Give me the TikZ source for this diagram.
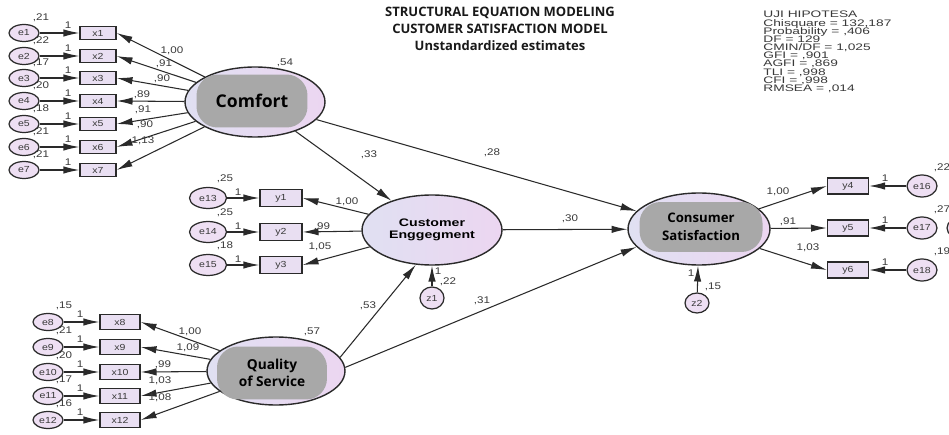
\documentclass[tikz,border=0pt]{standalone}
\usepackage{fontspec}
\setmainfont{Liberation Sans}
\newfontfamily\osans{Open Sans}
\newfontfamily\amos[FakeStretch=1.2]{Liberation Sans}
\newfontfamily\amosw[FakeStretch=1.3]{Liberation Sans}
\newfontfamily\amosx[FakeStretch=1.45]{Liberation Sans}
\newcommand\tightls{\lineskiplimit=-20pt\relax\lineskip=0pt\relax}
\usetikzlibrary{shapes.geometric,arrows.meta}
\definecolor{linec}{HTML}{2A2A2A}
\definecolor{labc}{HTML}{3A3A3A}
\definecolor{latL}{HTML}{E0E0F2}
\definecolor{latR}{HTML}{ECD6F1}
\definecolor{innerg}{HTML}{A8A8A8}
\definecolor{boxf}{HTML}{E9DFF2}
\definecolor{errf}{HTML}{EEDFF3}
\tikzset{
  lat/.style={ellipse, draw=linec, line width=0.8pt, left color=latL, right color=latR, inner sep=0pt},
  latin/.style={rectangle, rounded corners=0.42cm, fill=innerg, draw=none, inner sep=0pt, align=center, text=black},
  obs/.style={rectangle, draw=linec, fill=boxf, line width=0.8pt, inner sep=0pt, minimum width=0.72cm, minimum height=0.27cm, font=\amos\fontsize{5}{5}\selectfont, text=labc},
  err/.style={ellipse, draw=linec, fill=errf, line width=0.7pt, inner sep=0pt, minimum width=0.6cm, minimum height=0.34cm, font=\amos\fontsize{5}{5}\selectfont, text=labc},
  arr/.style={draw=linec, line width=0.6pt, -{Latex[length=9pt,width=4.2pt]}},
  lbl/.style={font=\amos\fontsize{5.5}{5.5}\selectfont, text=labc, inner sep=0pt},
}
\begin{document}
\begin{tikzpicture}[x=0.02cm,y=-0.02cm]
\useasboundingbox (0,0) rectangle (949,435);
\fill[white] (0,0) rectangle (949,435);

% title and fit statistics
\node[font=\osans\bfseries\fontsize{7.4}{9.6}\selectfont, align=center, text=black!90] (title) at (500,29)
  {STRUCTURAL EQUATION MODELING\\CUSTOMER SATISFACTION MODEL\\Unstandardized estimates};
\node[anchor=north west, align=left, inner sep=0pt, text=labc, font=\amosx\fontsize{5.4}{4.65}\selectfont\tightls] (fit) at (763,11)
  {UJI HIPOTESA\\Chisquare = 132,187\\Probability = ,406\\DF = 129\\CMIN/DF = 1,025\\GFI = ,901\\AGFI = ,869\\TLI = ,998\\CFI = ,998\\RMSEA = ,014};

% latent variables
\node[lat, minimum width=2.8cm, minimum height=1.4cm] (C) at (255,102) {};
\node[latin, minimum width=2.22cm, minimum height=1.06cm, font=\osans\bfseries\fontsize{10}{12}\selectfont] (Cin) at (252,101) {Comfort};
\node[lat, minimum width=2.8cm, minimum height=1.4cm, font=\amosw\bfseries\fontsize{6.2}{6.6}\selectfont\tightls, align=center] (CE) at (432,230) {Customer\\Enggegment};
\node[lat, minimum width=2.84cm, minimum height=1.44cm] (CS) at (699,229) {};
\node[latin, minimum width=2.46cm, minimum height=1.0cm, font=\osans\bfseries\fontsize{7.5}{10}\selectfont] (CSin) at (701,227) {Consumer\\Satisfaction};
\node[lat, minimum width=2.76cm, minimum height=1.36cm] (Q) at (276,371) {};
\node[latin, minimum width=2.2cm, minimum height=1.06cm, font=\osans\bfseries\fontsize{7.8}{10}\selectfont] (Qin) at (272,373) {Quality\\of Service};

% Comfort indicators
\foreach \i/\yy/\v in {1/33/{,21},2/56/{,22},3/78/{,17},4/101/{,20},5/124/{,18},6/147/{,21},7/170/{,21}}{
  \node[obs] (x\i) at (98,\yy) {x\i};
  \node[err] (e\i) at (24,\yy) {e\i};
  \draw[arr] (e\i) -- (x\i);
  \draw[arr] (C) -- (x\i.east);
  \node[lbl] (ve\i) at (41,\yy-15) {\v};
  \node[lbl] (one\i) at (68,\yy-8) {1};
}
\node[lbl] (lx1) at (172,51) {1,00};
\node[lbl] (lx2) at (164,64) {,91};
\node[lbl] (lx3) at (162,79) {,90};
\node[lbl] (lx4) at (142,95) {,89};
\node[lbl] (lx5) at (143,110) {,91};
\node[lbl] (lx6) at (145,125) {,90};
\node[lbl] (lx7) at (143,141) {1,13};
\node[lbl] (vC) at (285,63) {,54};

% Quality of Service indicators
\foreach \i/\yy/\v in {8/322/{,15},9/347/{,21},10/372/{,20},11/396/{,17},12/420/{,16}}{
  \node[obs, minimum width=0.8cm, minimum height=0.3cm] (x\i) at (120,\yy) {x\i};
  \node[err] (e\i) at (48,\yy) {e\i};
  \draw[arr] (e\i) -- (x\i);
  \draw[arr] (Q) -- (x\i.east);
  \node[lbl] (ve\i) at (64,\yy-16) {\v};
  \node[lbl] (one\i) at (80,\yy-8) {1};
}
\node[lbl] (lx8) at (190,332) {1,00};
\node[lbl] (lx9) at (188,348) {1,09};
\node[lbl] (lx10) at (163,365) {,99};
\node[lbl] (lx11) at (160,381) {1,03};
\node[lbl] (lx12) at (160,398) {1,08};
\node[lbl] (vQ) at (312,332) {,57};

% Customer Engagement indicators
\foreach \i/\j/\yy/\v in {1/13/198/{,25},2/14/232/{,25},3/15/265/{,18}}{
  \node[obs, minimum width=0.84cm, minimum height=0.33cm] (y\i) at (281,\yy) {y\i};
  \node[err, minimum width=0.74cm, minimum height=0.42cm] (e\j) at (208,\yy) {e\j};
  \draw[arr] (e\j) -- (y\i);
  \draw[arr] (CE) -- (y\i.east);
  \node[lbl] (ve\j) at (225,\yy-19) {\v};
  \node[lbl] (one\j) at (238,\yy-6) {1};
}
\node[lbl] (ly1) at (347,202) {1,00};
\node[lbl] (ly2) at (322,227) {,99};
\node[lbl] (ly3) at (320,247) {1,05};

% Consumer Satisfaction indicators
\foreach \i/\j/\yy/\v in {4/16/186/{,22},5/17/228/{,27},6/18/270/{,19}}{
  \node[obs, minimum width=0.82cm, minimum height=0.32cm] (y\i) at (848,\yy) {y\i};
  \node[err, minimum width=0.6cm, minimum height=0.44cm] (e\j) at (922,\yy) {e\j};
  \draw[arr] (e\j) -- (y\i);
  \draw[arr] (CS) -- (y\i.west);
  \node[lbl] (ve\j) at (942,\yy-18) {\v};
  \node[lbl] (one\j) at (885,\yy-8) {1};
}
\node[lbl] (ly4) at (778,192) {1,00};
\node[lbl] (ly5) at (788,222) {,91};
\node[lbl] (ly6) at (808,248) {1,03};
\node[err, minimum width=0.6cm, minimum height=0.44cm] (ecut) at (962,228) {};

% disturbances
\node[err, minimum width=0.48cm, minimum height=0.44cm] (z1) at (432,298) {z1};
\draw[arr] (z1) -- (CE);
\node[lbl] (onez1) at (438,271) {1};
\node[lbl] (vz1) at (448,282) {,22};
\node[err, minimum width=0.48cm, minimum height=0.4cm] (z2) at (697,303) {z2};
\draw[arr] (z2) -- (CS);
\node[lbl] (onez2) at (691,273) {1};
\node[lbl] (vz2) at (713,287) {,15};

% structural paths
\draw[arr] (C) -- (CE);
\draw[arr] (C) -- (CS);
\draw[arr] (CE) -- (CS);
\draw[arr] (Q.12) -- (CE.245);
\draw[arr] (Q.3) -- (CS.196);
\node[lbl] (p1) at (369,155) {,33};
\node[lbl] (p2) at (492,153) {,28};
\node[lbl] (p3) at (570,219) {,30};
\node[lbl] (p4) at (368,306) {,53};
\node[lbl] (p5) at (482,301) {,31};
\end{tikzpicture}
\end{document}
